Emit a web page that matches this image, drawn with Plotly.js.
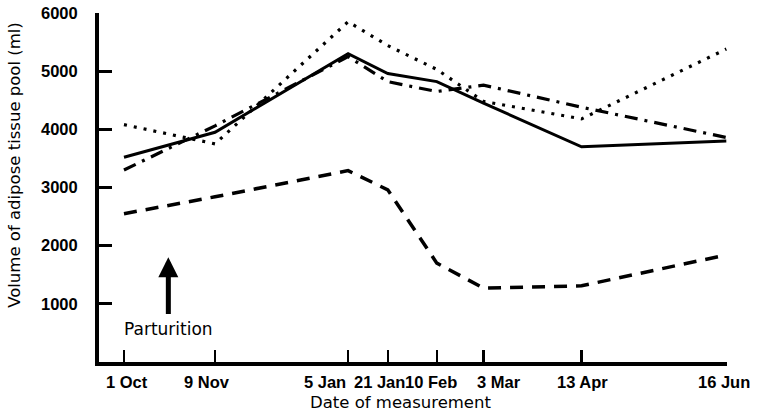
<!DOCTYPE html>
<html>
<head>
<meta charset="utf-8">
<script src="https://cdn.plot.ly/plotly-3.0.1.min.js"></script>
<style>html,body{margin:0;padding:0;background:#fff;}#chart{width:757px;height:416px;}</style>
</head>
<body>
<div id="chart"></div>
<script>
// Measurement dates (position as drawn, days after 1 Oct) and labels
var dateDays = [0, 39, 96, 113, 134, 154, 196, 258];
var dateLabels = ['1 Oct', '9 Nov', '5 Jan', '21 Jan', '10 Feb', '3 Mar', '13 Apr', '16 Jun'];
// where each date label is printed along the axis (days after 1 Oct, as set in the figure)
var dateLabelPos = [1.3, 35.5, 86, 109.5, 131.6, 160.5, 196.5, 257];

// Volume of adipose tissue pool (ml) for four animals
var solidSeries   = [3520, 3950, 5300, 4960, 4820, 4450, 3700, 3800];
var dottedSeries  = [4080, 3750, 5850, 5440, 5030, 4480, 4180, 5380];
var dashdotSeries = [3300, 4060, 5250, 4820, 4650, 4760, 4380, 3860];
var dashedSeries  = [2550, 2840, 3290, 2960, 1700, 1270, 1310, 1840];

var yTicks = [1000, 2000, 3000, 4000, 5000, 6000];

// Parturition marker (day, volume)
var partDay = 19;
var partArrowTip = 1800;
var partArrowTail = 800;
var partTextY = 560;

var xTitle = 'Date of measurement';
var xTitlePos = 118.5;
var yTitle = 'Volume of adipose tissue pool (ml)';
var yTitlePos = 3390;

function line(y, dash, w) {
  return {
    x: dateDays, y: y, type: 'scatter', mode: 'lines',
    line: {color: '#000', width: w, dash: dash},
    hoverinfo: 'skip', showlegend: false
  };
}

var data = [
  line(dashedSeries, '13px,9px', 3.5),
  line(dottedSeries, '3px,7px', 3.2),
  line(dashdotSeries, '13px,7px,3px,7px', 3.2),
  line(solidSeries, 'solid', 3)
];

var tickFont = {family: 'Liberation Sans, Arial, sans-serif', size: 16.5, color: '#000', weight: 700};
var textFont = {family: 'DejaVu Sans, sans-serif', size: 16.5, color: '#000'};

var annotations = [];
for (var i = 0; i < dateLabels.length; i++) {
  annotations.push({
    x: dateLabelPos[i], xref: 'x', y: 0, yref: 'paper',
    xanchor: 'center', yanchor: 'middle', yshift: -20,
    text: dateLabels[i], showarrow: false, font: tickFont
  });
}
annotations.push({
  x: xTitlePos, xref: 'x', y: 0, yref: 'paper', xanchor: 'center', yanchor: 'middle', yshift: -40,
  text: xTitle, showarrow: false, font: textFont
});
annotations.push({
  x: 0, xref: 'paper', y: yTitlePos, yref: 'y', xanchor: 'center', yanchor: 'middle', xshift: -84,
  textangle: -90, text: yTitle, showarrow: false, font: textFont
});
annotations.push({
  x: partDay, y: partArrowTip, xref: 'x', yref: 'y', ax: partDay, ay: partArrowTail, axref: 'x', ayref: 'y',
  text: '', showarrow: true, arrowhead: 2, arrowsize: 0.8, arrowwidth: 5, arrowcolor: '#000'
});
annotations.push({
  x: partDay, y: partTextY, xref: 'x', yref: 'y', text: 'Parturition', showarrow: false,
  font: {family: 'DejaVu Sans, sans-serif', size: 17, color: '#000'}
});

var layout = {
  width: 757, height: 416,
  margin: {l: 99, r: 30, t: 13, b: 54},
  paper_bgcolor: '#fff', plot_bgcolor: '#fff',
  showlegend: false,
  xaxis: {
    range: [-10.7, 258.3],
    tickmode: 'array', tickvals: dateDays, showticklabels: false,
    ticks: 'inside', ticklen: 12, tickwidth: 2.5, tickcolor: '#000',
    showline: true, linewidth: 4, linecolor: '#000',
    showgrid: false, zeroline: false
  },
  yaxis: {
    range: [0, 6000],
    tickmode: 'array', tickvals: yTicks,
    ticks: 'inside', ticklen: 13, tickwidth: 3, tickcolor: '#000',
    showline: true, linewidth: 4, linecolor: '#000',
    showgrid: false, zeroline: false,
    tickfont: tickFont, ticklabelstandoff: 14
  },
  annotations: annotations
};

Plotly.newPlot('chart', data, layout, {displayModeBar: false, staticPlot: true});
</script>
</body>
</html>
